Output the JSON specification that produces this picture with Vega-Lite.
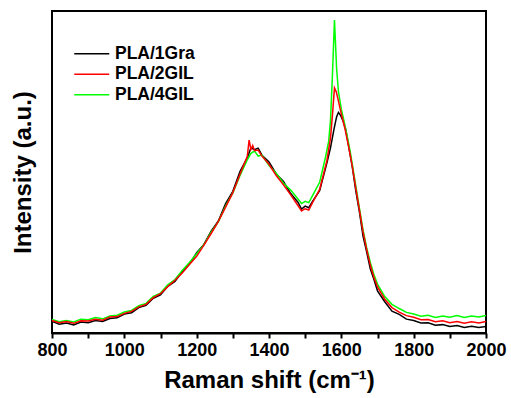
{
  "$schema": "https://vega.github.io/schema/vega-lite/v6.json",
  "width": 434,
  "height": 322,
  "autosize": {"type": "none"},
  "padding": {"left": 52, "top": 11, "right": 25, "bottom": 65},
  "config": {"view": {"stroke": "black", "strokeWidth": 2}, "font": "Liberation Sans"},
  "data": {
    "values": [
      {"sample":"PLA/1Gra","shift":800,"intensity":3.6},{"sample":"PLA/1Gra","shift":820,"intensity":2.7},{"sample":"PLA/1Gra","shift":840,"intensity":3.1},{"sample":"PLA/1Gra","shift":860,"intensity":2.5},{"sample":"PLA/1Gra","shift":880,"intensity":3.4},
      {"sample":"PLA/1Gra","shift":900,"intensity":3.2},{"sample":"PLA/1Gra","shift":920,"intensity":3.9},{"sample":"PLA/1Gra","shift":940,"intensity":3.6},{"sample":"PLA/1Gra","shift":960,"intensity":4.5},{"sample":"PLA/1Gra","shift":980,"intensity":4.7},
      {"sample":"PLA/1Gra","shift":1000,"intensity":5.9},{"sample":"PLA/1Gra","shift":1020,"intensity":6.3},{"sample":"PLA/1Gra","shift":1040,"intensity":7.9},{"sample":"PLA/1Gra","shift":1060,"intensity":8.6},{"sample":"PLA/1Gra","shift":1080,"intensity":10.8},
      {"sample":"PLA/1Gra","shift":1100,"intensity":11.8},{"sample":"PLA/1Gra","shift":1120,"intensity":14.5},{"sample":"PLA/1Gra","shift":1140,"intensity":16.0},{"sample":"PLA/1Gra","shift":1160,"intensity":19.1},{"sample":"PLA/1Gra","shift":1180,"intensity":21.4},
      {"sample":"PLA/1Gra","shift":1200,"intensity":24.9},{"sample":"PLA/1Gra","shift":1220,"intensity":27.5},{"sample":"PLA/1Gra","shift":1240,"intensity":31.6},{"sample":"PLA/1Gra","shift":1260,"intensity":34.8},{"sample":"PLA/1Gra","shift":1280,"intensity":40.2},
      {"sample":"PLA/1Gra","shift":1300,"intensity":44.0},{"sample":"PLA/1Gra","shift":1320,"intensity":50.2},{"sample":"PLA/1Gra","shift":1340,"intensity":54.4},{"sample":"PLA/1Gra","shift":1350,"intensity":57.5},{"sample":"PLA/1Gra","shift":1360,"intensity":56.9},
      {"sample":"PLA/1Gra","shift":1370,"intensity":57.4},{"sample":"PLA/1Gra","shift":1380,"intensity":55.3},{"sample":"PLA/1Gra","shift":1400,"intensity":53.1},{"sample":"PLA/1Gra","shift":1420,"intensity":49.4},{"sample":"PLA/1Gra","shift":1440,"intensity":47.1},
      {"sample":"PLA/1Gra","shift":1460,"intensity":43.3},{"sample":"PLA/1Gra","shift":1480,"intensity":40.6},{"sample":"PLA/1Gra","shift":1490,"intensity":38.5},{"sample":"PLA/1Gra","shift":1500,"intensity":39.4},{"sample":"PLA/1Gra","shift":1510,"intensity":38.9},
      {"sample":"PLA/1Gra","shift":1520,"intensity":40.8},{"sample":"PLA/1Gra","shift":1540,"intensity":44.2},{"sample":"PLA/1Gra","shift":1560,"intensity":52.8},{"sample":"PLA/1Gra","shift":1570,"intensity":57.5},{"sample":"PLA/1Gra","shift":1580,"intensity":63.5},
      {"sample":"PLA/1Gra","shift":1587,"intensity":67.2},{"sample":"PLA/1Gra","shift":1592,"intensity":68.5},{"sample":"PLA/1Gra","shift":1598,"intensity":67.6},{"sample":"PLA/1Gra","shift":1605,"intensity":65.8},{"sample":"PLA/1Gra","shift":1612,"intensity":63.2},
      {"sample":"PLA/1Gra","shift":1620,"intensity":58.2},{"sample":"PLA/1Gra","shift":1630,"intensity":51.8},{"sample":"PLA/1Gra","shift":1640,"intensity":44.1},{"sample":"PLA/1Gra","shift":1650,"intensity":37.6},{"sample":"PLA/1Gra","shift":1660,"intensity":30.1},
      {"sample":"PLA/1Gra","shift":1670,"intensity":25.2},{"sample":"PLA/1Gra","shift":1680,"intensity":19.9},{"sample":"PLA/1Gra","shift":1690,"intensity":16.7},{"sample":"PLA/1Gra","shift":1700,"intensity":13.1},{"sample":"PLA/1Gra","shift":1720,"intensity":9.7},
      {"sample":"PLA/1Gra","shift":1740,"intensity":6.8},{"sample":"PLA/1Gra","shift":1760,"intensity":5.8},{"sample":"PLA/1Gra","shift":1780,"intensity":4.3},{"sample":"PLA/1Gra","shift":1800,"intensity":3.9},{"sample":"PLA/1Gra","shift":1820,"intensity":3.1},
      {"sample":"PLA/1Gra","shift":1840,"intensity":3.2},{"sample":"PLA/1Gra","shift":1860,"intensity":2.4},{"sample":"PLA/1Gra","shift":1880,"intensity":2.6},{"sample":"PLA/1Gra","shift":1900,"intensity":2.0},{"sample":"PLA/1Gra","shift":1920,"intensity":2.3},
      {"sample":"PLA/1Gra","shift":1940,"intensity":1.7},{"sample":"PLA/1Gra","shift":1960,"intensity":2.1},{"sample":"PLA/1Gra","shift":1980,"intensity":1.7},{"sample":"PLA/1Gra","shift":2000,"intensity":2.0},

      {"sample":"PLA/4GIL","shift":800,"intensity":4.2},{"sample":"PLA/4GIL","shift":820,"intensity":3.5},{"sample":"PLA/4GIL","shift":840,"intensity":3.9},{"sample":"PLA/4GIL","shift":860,"intensity":3.4},{"sample":"PLA/4GIL","shift":880,"intensity":4.3},
      {"sample":"PLA/4GIL","shift":900,"intensity":4.1},{"sample":"PLA/4GIL","shift":920,"intensity":4.8},{"sample":"PLA/4GIL","shift":940,"intensity":4.4},{"sample":"PLA/4GIL","shift":960,"intensity":5.3},{"sample":"PLA/4GIL","shift":980,"intensity":5.5},
      {"sample":"PLA/4GIL","shift":1000,"intensity":6.5},{"sample":"PLA/4GIL","shift":1020,"intensity":7.0},{"sample":"PLA/4GIL","shift":1040,"intensity":8.5},{"sample":"PLA/4GIL","shift":1060,"intensity":9.2},{"sample":"PLA/4GIL","shift":1080,"intensity":11.4},
      {"sample":"PLA/4GIL","shift":1100,"intensity":12.4},{"sample":"PLA/4GIL","shift":1120,"intensity":15.0},{"sample":"PLA/4GIL","shift":1140,"intensity":16.6},{"sample":"PLA/4GIL","shift":1160,"intensity":19.4},{"sample":"PLA/4GIL","shift":1180,"intensity":21.9},
      {"sample":"PLA/4GIL","shift":1200,"intensity":24.6},{"sample":"PLA/4GIL","shift":1220,"intensity":27.4},{"sample":"PLA/4GIL","shift":1240,"intensity":31.3},{"sample":"PLA/4GIL","shift":1260,"intensity":34.5},{"sample":"PLA/4GIL","shift":1280,"intensity":39.4},
      {"sample":"PLA/4GIL","shift":1300,"intensity":43.5},{"sample":"PLA/4GIL","shift":1320,"intensity":48.9},{"sample":"PLA/4GIL","shift":1340,"intensity":53.8},{"sample":"PLA/4GIL","shift":1350,"intensity":55.8},{"sample":"PLA/4GIL","shift":1360,"intensity":56.5},
      {"sample":"PLA/4GIL","shift":1370,"intensity":54.9},{"sample":"PLA/4GIL","shift":1380,"intensity":55.3},{"sample":"PLA/4GIL","shift":1400,"intensity":52.0},{"sample":"PLA/4GIL","shift":1420,"intensity":49.6},{"sample":"PLA/4GIL","shift":1440,"intensity":46.5},
      {"sample":"PLA/4GIL","shift":1460,"intensity":44.4},{"sample":"PLA/4GIL","shift":1480,"intensity":41.6},{"sample":"PLA/4GIL","shift":1490,"intensity":40.2},{"sample":"PLA/4GIL","shift":1500,"intensity":40.9},{"sample":"PLA/4GIL","shift":1510,"intensity":40.5},
      {"sample":"PLA/4GIL","shift":1520,"intensity":42.6},{"sample":"PLA/4GIL","shift":1540,"intensity":46.8},{"sample":"PLA/4GIL","shift":1556,"intensity":54.5},{"sample":"PLA/4GIL","shift":1565,"intensity":59.5},{"sample":"PLA/4GIL","shift":1570,"intensity":66.0},
      {"sample":"PLA/4GIL","shift":1575,"intensity":79.0},{"sample":"PLA/4GIL","shift":1581,"intensity":97.2},{"sample":"PLA/4GIL","shift":1587,"intensity":82.0},{"sample":"PLA/4GIL","shift":1592,"intensity":75.0},{"sample":"PLA/4GIL","shift":1600,"intensity":69.5},
      {"sample":"PLA/4GIL","shift":1607,"intensity":66.0},{"sample":"PLA/4GIL","shift":1615,"intensity":61.8},{"sample":"PLA/4GIL","shift":1625,"intensity":56.0},{"sample":"PLA/4GIL","shift":1640,"intensity":45.7},{"sample":"PLA/4GIL","shift":1650,"intensity":38.8},
      {"sample":"PLA/4GIL","shift":1660,"intensity":32.0},{"sample":"PLA/4GIL","shift":1670,"intensity":26.5},{"sample":"PLA/4GIL","shift":1680,"intensity":22.0},{"sample":"PLA/4GIL","shift":1690,"intensity":18.2},{"sample":"PLA/4GIL","shift":1700,"intensity":15.2},
      {"sample":"PLA/4GIL","shift":1720,"intensity":11.3},{"sample":"PLA/4GIL","shift":1740,"intensity":8.9},{"sample":"PLA/4GIL","shift":1760,"intensity":7.6},{"sample":"PLA/4GIL","shift":1780,"intensity":6.4},{"sample":"PLA/4GIL","shift":1800,"intensity":5.9},
      {"sample":"PLA/4GIL","shift":1820,"intensity":5.2},{"sample":"PLA/4GIL","shift":1840,"intensity":5.5},{"sample":"PLA/4GIL","shift":1860,"intensity":4.8},{"sample":"PLA/4GIL","shift":1880,"intensity":5.3},{"sample":"PLA/4GIL","shift":1900,"intensity":4.9},
      {"sample":"PLA/4GIL","shift":1920,"intensity":5.4},{"sample":"PLA/4GIL","shift":1940,"intensity":4.8},{"sample":"PLA/4GIL","shift":1960,"intensity":5.3},{"sample":"PLA/4GIL","shift":1980,"intensity":5.0},{"sample":"PLA/4GIL","shift":2000,"intensity":5.4},

      {"sample":"PLA/2GIL","shift":800,"intensity":3.9},{"sample":"PLA/2GIL","shift":820,"intensity":3.2},{"sample":"PLA/2GIL","shift":840,"intensity":3.6},{"sample":"PLA/2GIL","shift":860,"intensity":3.0},{"sample":"PLA/2GIL","shift":880,"intensity":3.8},
      {"sample":"PLA/2GIL","shift":900,"intensity":3.7},{"sample":"PLA/2GIL","shift":920,"intensity":4.3},{"sample":"PLA/2GIL","shift":940,"intensity":4.0},{"sample":"PLA/2GIL","shift":960,"intensity":5.0},{"sample":"PLA/2GIL","shift":980,"intensity":5.1},
      {"sample":"PLA/2GIL","shift":1000,"intensity":6.1},{"sample":"PLA/2GIL","shift":1020,"intensity":6.7},{"sample":"PLA/2GIL","shift":1040,"intensity":8.1},{"sample":"PLA/2GIL","shift":1060,"intensity":8.9},{"sample":"PLA/2GIL","shift":1080,"intensity":11.0},
      {"sample":"PLA/2GIL","shift":1100,"intensity":12.2},{"sample":"PLA/2GIL","shift":1120,"intensity":14.4},{"sample":"PLA/2GIL","shift":1140,"intensity":16.4},{"sample":"PLA/2GIL","shift":1160,"intensity":18.6},{"sample":"PLA/2GIL","shift":1180,"intensity":21.3},
      {"sample":"PLA/2GIL","shift":1200,"intensity":23.8},{"sample":"PLA/2GIL","shift":1220,"intensity":27.3},{"sample":"PLA/2GIL","shift":1240,"intensity":30.9},{"sample":"PLA/2GIL","shift":1260,"intensity":34.7},{"sample":"PLA/2GIL","shift":1280,"intensity":39.1},
      {"sample":"PLA/2GIL","shift":1300,"intensity":43.6},{"sample":"PLA/2GIL","shift":1320,"intensity":49.4},{"sample":"PLA/2GIL","shift":1340,"intensity":54.9},{"sample":"PLA/2GIL","shift":1345,"intensity":59.9},{"sample":"PLA/2GIL","shift":1350,"intensity":57.0},
      {"sample":"PLA/2GIL","shift":1355,"intensity":58.2},{"sample":"PLA/2GIL","shift":1360,"intensity":56.6},{"sample":"PLA/2GIL","shift":1370,"intensity":56.8},{"sample":"PLA/2GIL","shift":1380,"intensity":55.0},{"sample":"PLA/2GIL","shift":1400,"intensity":52.4},
      {"sample":"PLA/2GIL","shift":1420,"intensity":48.9},{"sample":"PLA/2GIL","shift":1440,"intensity":46.0},{"sample":"PLA/2GIL","shift":1460,"intensity":42.9},{"sample":"PLA/2GIL","shift":1480,"intensity":39.6},{"sample":"PLA/2GIL","shift":1490,"intensity":37.9},
      {"sample":"PLA/2GIL","shift":1500,"intensity":38.6},{"sample":"PLA/2GIL","shift":1510,"intensity":38.2},{"sample":"PLA/2GIL","shift":1520,"intensity":40.4},{"sample":"PLA/2GIL","shift":1540,"intensity":44.6},{"sample":"PLA/2GIL","shift":1560,"intensity":53.5},
      {"sample":"PLA/2GIL","shift":1570,"intensity":60.5},{"sample":"PLA/2GIL","shift":1576,"intensity":68.5},{"sample":"PLA/2GIL","shift":1581,"intensity":76.1},{"sample":"PLA/2GIL","shift":1586,"intensity":74.9},{"sample":"PLA/2GIL","shift":1590,"intensity":73.0},
      {"sample":"PLA/2GIL","shift":1600,"intensity":68.0},{"sample":"PLA/2GIL","shift":1610,"intensity":63.5},{"sample":"PLA/2GIL","shift":1620,"intensity":58.0},{"sample":"PLA/2GIL","shift":1630,"intensity":52.0},{"sample":"PLA/2GIL","shift":1640,"intensity":45.0},
      {"sample":"PLA/2GIL","shift":1650,"intensity":38.2},{"sample":"PLA/2GIL","shift":1660,"intensity":31.4},{"sample":"PLA/2GIL","shift":1670,"intensity":26.0},{"sample":"PLA/2GIL","shift":1680,"intensity":21.1},{"sample":"PLA/2GIL","shift":1690,"intensity":17.3},
      {"sample":"PLA/2GIL","shift":1700,"intensity":14.3},{"sample":"PLA/2GIL","shift":1720,"intensity":10.5},{"sample":"PLA/2GIL","shift":1740,"intensity":7.9},{"sample":"PLA/2GIL","shift":1760,"intensity":6.5},{"sample":"PLA/2GIL","shift":1780,"intensity":5.4},
      {"sample":"PLA/2GIL","shift":1800,"intensity":4.9},{"sample":"PLA/2GIL","shift":1820,"intensity":4.1},{"sample":"PLA/2GIL","shift":1840,"intensity":4.2},{"sample":"PLA/2GIL","shift":1860,"intensity":3.5},{"sample":"PLA/2GIL","shift":1880,"intensity":3.8},
      {"sample":"PLA/2GIL","shift":1900,"intensity":3.2},{"sample":"PLA/2GIL","shift":1920,"intensity":3.6},{"sample":"PLA/2GIL","shift":1940,"intensity":3.0},{"sample":"PLA/2GIL","shift":1960,"intensity":3.5},{"sample":"PLA/2GIL","shift":1980,"intensity":3.1},
      {"sample":"PLA/2GIL","shift":2000,"intensity":3.6}
    ]
  },
  "mark": {"type": "line", "strokeWidth": 1.5},
  "encoding": {
    "x": {
      "field": "shift", "type": "quantitative",
      "scale": {"domain": [800, 2000], "nice": false},
      "axis": {
        "values": [800, 900, 1000, 1100, 1200, 1300, 1400, 1500, 1600, 1700, 1800, 1900, 2000],
        "labelExpr": "datum.value % 200 === 0 ? format(datum.value, 'd') : ''",
        "ticks": true, "tickSize": 5, "tickWidth": 2, "tickColor": "black",
        "domain": true, "domainColor": "black", "domainWidth": 2, "grid": false, "labelFlush": false,
        "labelFont": "Liberation Sans", "labelFontWeight": "bold", "labelFontSize": 18,
        "labelColor": "black", "labelPadding": 3, "labelOverlap": false,
        "title": "Raman shift (cm⁻¹)", "titleFont": "Liberation Sans",
        "titleFontSize": 24, "titleFontWeight": "bold", "titleColor": "black", "titlePadding": 9
      }
    },
    "y": {
      "field": "intensity", "type": "quantitative",
      "scale": {"domain": [0, 100], "nice": false},
      "axis": {
        "title": "Intensity (a.u.)", "labels": false, "ticks": false, "domain": false, "grid": false,
        "titleFont": "Liberation Sans", "titleFontSize": 24, "titleFontWeight": "bold",
        "titleColor": "black", "titlePadding": 17
      }
    },
    "color": {
      "field": "sample", "type": "nominal",
      "scale": {"domain": ["PLA/1Gra", "PLA/2GIL", "PLA/4GIL"], "range": ["#000000", "#ff0000", "#00ff00"]},
      "legend": {
        "title": null, "orient": "none", "legendX": 31, "legendY": 34,
        "symbolType": "M-3.5,0H3.5", "symbolSize": 100, "symbolStrokeWidth": 1.5,
        "labelFont": "Liberation Sans", "labelFontSize": 17.5, "labelFontWeight": "bold",
        "labelColor": "black", "labelOffset": 14.5, "rowPadding": 1.5
      }
    }
  }
}
